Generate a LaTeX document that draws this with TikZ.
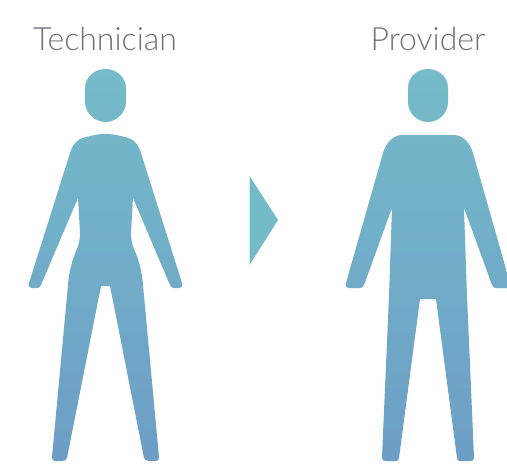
\documentclass[tikz,border=0pt]{standalone}
\usepackage{fontspec}
\setmainfont{Lato Light}
\definecolor{figtop}{HTML}{75BBC9}
\definecolor{figbot}{HTML}{6D9EC6}
\definecolor{arrowcol}{HTML}{74BBC8}
\definecolor{labelcol}{HTML}{6F7078}
\tikzset{
  figlabel/.style={text=labelcol,anchor=base,inner sep=0pt,font=\fontsize{32pt}{34pt}\selectfont},
  figshade/.style={top color=figtop,bottom color=figbot,draw=none}
}
\begin{document}
\begin{tikzpicture}[x=1pt,y=-1pt]
\useasboundingbox (0,0) rectangle (507,466);
\clip (0,0) rectangle (507,466);
\node[figlabel] (technician) at (105,50) {Technician};
\node[figlabel] (provider) at (428,50) {Provider};
% arrow
\fill[arrowcol] (249.5,176) -- (278,220) -- (249.5,265) -- cycle;
% technician
\begin{scope}
\clip (105.5,69) .. controls (95,69) and (85,77) .. (85,88) -- (85,102)
  .. controls (85,113) and (95,122) .. (105.5,122) .. controls (116,122) and (126,113) .. (126,102)
  -- (126,88) .. controls (126,77) and (116,69) .. (105.5,69) -- cycle
  (105.5,134) .. controls (97,134) and (90,136) .. (84,137.5)
  .. controls (78,139) and (73,144) .. (71,150) -- (29,283)
  .. controls (28,287) and (30,288) .. (32,288) -- (37,288)
  .. controls (39,288) and (40,287) .. (41,285) -- (78,198) -- (80,233)
  .. controls (80,239) and (79,244) .. (77,249)
  .. controls (72,260) and (69,272) .. (68,285) -- (52,457)
  .. controls (52,460) and (53,461) .. (55,461) -- (62,461)
  .. controls (65,461) and (66,460) .. (67,458) -- (101,286) -- (110,286) -- (144,458)
  .. controls (145,460) and (146,461) .. (149,461) -- (156,461)
  .. controls (158,461) and (159,460) .. (159,457) -- (143,285)
  .. controls (142,272) and (139,260) .. (134,249)
  .. controls (132,244) and (131,239) .. (131,233) -- (133,198) -- (170,285)
  .. controls (171,287) and (172,288) .. (174,288) -- (179,288)
  .. controls (181,288) and (183,287) .. (182,283) -- (140,150)
  .. controls (138,144) and (133,139) .. (127,137.5)
  .. controls (121,136) and (114,134) .. (105.5,134) -- cycle;
\shade[figshade] (20,69) rectangle (190,461);
\end{scope}
% provider
\begin{scope}
\clip (428,69) .. controls (417,69) and (408,77) .. (408,88) -- (408,102)
  .. controls (408,113) and (417,122) .. (428,122) .. controls (439,122) and (448,113) .. (448,102)
  -- (448,88) .. controls (448,77) and (439,69) .. (428,69) -- cycle
  (402,135) .. controls (393,135) and (386,143) .. (383,153) -- (346,283)
  .. controls (345,287) and (347,288) .. (349,288) -- (360,288)
  .. controls (362,288) and (363,287) .. (364,285) -- (392,208) -- (389,296) -- (382,457)
  .. controls (382,460) and (383,461) .. (385,461) -- (396,461)
  .. controls (398,461) and (399,460) .. (399,458) -- (420,299) -- (436,299) -- (457,458)
  .. controls (457,460) and (458,461) .. (460,461) -- (471,461)
  .. controls (473,461) and (474,460) .. (474,457) -- (467,296) -- (464,208) -- (492,285)
  .. controls (493,287) and (494,288) .. (496,288) -- (507,288)
  .. controls (509,288) and (511,287) .. (510,283) -- (473,153)
  .. controls (470,143) and (463,135) .. (454,135) -- cycle;
\shade[figshade] (340,69) rectangle (515,461);
\end{scope}
\end{tikzpicture}
\end{document}
